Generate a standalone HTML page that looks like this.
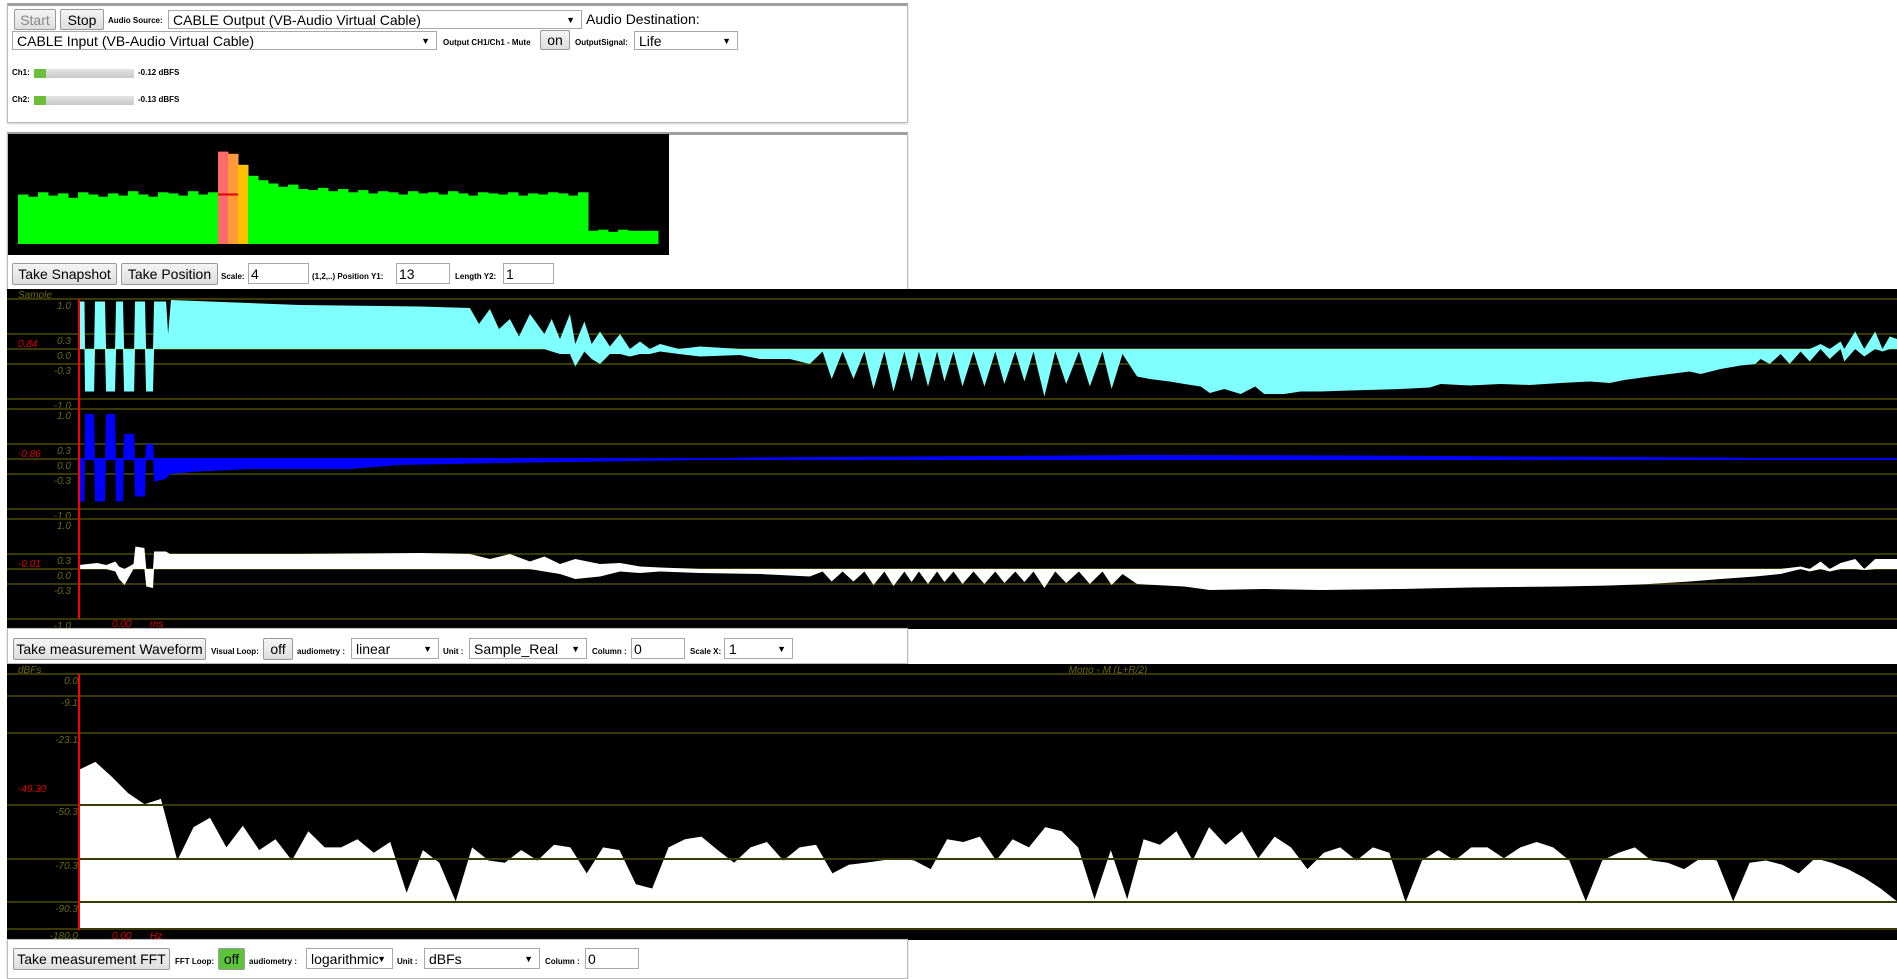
<!DOCTYPE html>
<html><head><meta charset="utf-8">
<style>
*{box-sizing:border-box;margin:0;padding:0}
body{width:1897px;height:966px;background:#fff;position:relative;overflow:hidden;font-family:"Liberation Sans",sans-serif}
.abs{position:absolute}
.panel{position:absolute;border:1px solid #bbb;border-top:3px solid #a0a0a0;background:#fff;box-shadow:0 1px 2px #ccc}
.btn{position:absolute;background:linear-gradient(#f4f4f4,#dedede);border:1px solid #999;border-radius:2px;font-size:14px;color:#000;display:flex;align-items:center;justify-content:center;white-space:nowrap}
.sel{position:absolute;background:#fff;border:1px solid #a9a9a9;font-size:14px;padding-left:4px;display:flex;align-items:center;white-space:nowrap}
.sel:after{content:"▼";position:absolute;right:6px;font-size:9px;top:50%;transform:translateY(-50%)}
.inp{position:absolute;background:#fff;border:1px solid #a9a9a9;font-size:14px;padding-left:2px;display:flex;align-items:center}
.lbl{position:absolute;font-size:8px;font-weight:bold;white-space:nowrap;font-family:"Liberation Sans",sans-serif}
svg text{font-family:"Liberation Sans",sans-serif;font-style:italic;font-size:10px}
</style></head><body>

<div class="panel" style="left:7px;top:3px;width:901px;height:120px"></div>
<div class="btn" style="left:14px;top:9px;width:42px;height:21px;color:#888">Start</div>
<div class="btn" style="left:60px;top:9px;width:44px;height:21px">Stop</div>
<div class="lbl" style="left:108px;top:16px">Audio Source:</div>
<div class="sel" style="left:168px;top:10px;width:414px;height:19px">CABLE Output (VB-Audio Virtual Cable)</div>
<div class="abs" style="left:586px;top:11px;font-size:14px">Audio Destination:</div>
<div class="sel" style="left:12px;top:31px;width:425px;height:19px">CABLE Input (VB-Audio Virtual Cable)</div>
<div class="lbl" style="left:443px;top:38px">Output CH1/Ch1 - Mute</div>
<div class="btn" style="left:540px;top:30px;width:30px;height:20px">on</div>
<div class="lbl" style="left:575px;top:38px">OutputSignal:</div>
<div class="sel" style="left:634px;top:31px;width:104px;height:19px">Life</div>
<div class="lbl" style="left:12px;top:68px">Ch1:</div>
<div class="abs" style="left:34px;top:69px;width:100px;height:9px;background:linear-gradient(#e4e4e4,#c8c8c8)"><div style="width:12px;height:9px;background:#6cbf3a"></div></div>
<div class="lbl" style="left:138px;top:68px">-0.12 dBFS</div>
<div class="lbl" style="left:12px;top:95px">Ch2:</div>
<div class="abs" style="left:34px;top:96px;width:100px;height:9px;background:linear-gradient(#e4e4e4,#c8c8c8)"><div style="width:12px;height:9px;background:#6cbf3a"></div></div>
<div class="lbl" style="left:138px;top:95px">-0.13 dBFS</div>

<div class="panel" style="left:7px;top:132px;width:901px;height:160px"></div>
<svg id="spec" class="abs" style="left:8px;top:134px" width="661" height="121"></svg>
<div class="btn" style="left:12px;top:263px;width:105px;height:22px">Take Snapshot</div>
<div class="btn" style="left:121px;top:263px;width:97px;height:22px">Take Position</div>
<div class="lbl" style="left:221px;top:272px">Scale:</div>
<div class="inp" style="left:248px;top:263px;width:61px;height:21px">4</div>
<div class="lbl" style="left:312px;top:272px">(1,2,..) Position Y1:</div>
<div class="inp" style="left:396px;top:263px;width:54px;height:21px">13</div>
<div class="lbl" style="left:455px;top:272px">Length Y2:</div>
<div class="inp" style="left:503px;top:263px;width:51px;height:21px">1</div>

<svg id="wave" class="abs" style="left:7px;top:289px" width="1890" height="340"></svg>

<div class="panel" style="left:7px;top:628px;width:901px;height:36px;border-top:1px solid #bbb"></div>
<div class="btn" style="left:13px;top:638px;width:193px;height:22px">Take measurement Waveform</div>
<div class="lbl" style="left:211px;top:647px">Visual Loop:</div>
<div class="btn" style="left:263px;top:638px;width:30px;height:22px">off</div>
<div class="lbl" style="left:297px;top:647px">audiometry :</div>
<div class="sel" style="left:351px;top:638px;width:88px;height:21px">linear</div>
<div class="lbl" style="left:443px;top:647px">Unit :</div>
<div class="sel" style="left:469px;top:638px;width:118px;height:21px">Sample_Real</div>
<div class="lbl" style="left:592px;top:647px">Column :</div>
<div class="inp" style="left:631px;top:638px;width:54px;height:21px">0</div>
<div class="lbl" style="left:690px;top:647px">Scale X:</div>
<div class="sel" style="left:724px;top:638px;width:69px;height:21px">1</div>

<svg id="fft" class="abs" style="left:7px;top:664px" width="1890" height="276"></svg>

<div class="panel" style="left:7px;top:939px;width:901px;height:40px;border-top:1px solid #bbb"></div>
<div class="btn" style="left:13px;top:948px;width:157px;height:22px">Take measurement FFT</div>
<div class="lbl" style="left:175px;top:957px">FFT Loop:</div>
<div class="btn" style="left:218px;top:948px;width:27px;height:22px;background:#5cc43a">off</div>
<div class="lbl" style="left:249px;top:957px">audiometry :</div>
<div class="sel" style="left:306px;top:948px;width:87px;height:21px">logarithmic</div>
<div class="lbl" style="left:397px;top:957px">Unit :</div>
<div class="sel" style="left:424px;top:948px;width:116px;height:21px">dBFs</div>
<div class="lbl" style="left:545px;top:957px">Column :</div>
<div class="inp" style="left:585px;top:948px;width:54px;height:21px">0</div>

<script>
const NS="http://www.w3.org/2000/svg";
function mk(p,tag,at){const e=document.createElementNS(NS,tag);for(const k in at)e.setAttribute(k,at[k]);p.appendChild(e);return e;}

// ---------- snapshot spectrum data ----------
const specLevels=[0.45,0.43,0.47,0.44,0.46,0.42,0.47,0.45,0.43,0.46,0.44,0.48,0.45,0.43,0.47,0.46,0.44,0.48,0.45,0.47,
0.84,0.82,0.72,0.62,0.58,0.55,0.52,0.54,0.5,0.49,0.51,0.48,0.5,0.47,0.49,0.46,0.48,0.47,0.45,0.48,
0.46,0.47,0.45,0.48,0.46,0.44,0.47,0.46,0.45,0.47,0.44,0.46,0.45,0.47,0.46,0.44,0.47,0.12,0.13,0.11,0.13,0.12,0.12,0.12];
const specPeakIdx=[20,21,22];
const specMarker=0.45;

// ---------- waveform data: [sample t (0..1000), high, low] ----------
const ch1Points=[[0,.95,0],[3,.95,0],[3.3,0,-.85],[8.3,0,-.85],[8.8,.95,0],[14.3,.95,0],[14.9,0,-.85],[19.8,0,-.85],[20.4,.95,0],[24.2,.95,0],[24.8,0,-.85],[30.3,0,-.85],[30.8,.95,0],[36.3,.95,0],[36.9,0,-.85],[40.7,0,-.85],[41.3,.95,0],[47.9,.95,0],[49,.3,0],[50.6,.98,0],[121.6,.88,0],[187.6,.85,0],[215,.82,0],[220,.5,0],[226,.8,0],[231,.4,0],[237,.6,0],[242,.25,0],[248,.7,0],[256,.3,0],[260,.6,-.05],[264.6,.2,-.1],[270,.7,-.1],[273,.1,-.35],[278,.55,-.05],[282,.1,-.2],[286.6,.35,-.3],[292,.05,-.1],[297.6,.3,-.1],[303,0,-.15],[308.6,.15,-.1],[314,0,-.1],[319.6,.1,-.05],[330,0,-.1],[341.6,.05,-.15],[363.6,0,-.12],[374.6,0,-.2],[391,0,-.2],[402,0,-.3],
[409,0,-.05],[414,0,-.6],[420,0,-.05],[426,0,-.6],[432,0,-.05],[437,0,-.8],[443,0,-.05],[448,0,-.85],[454,0,-.05],[458,0,-.65],[462,0,-.05],[467,0,-.75],[472,0,-.05],[476,0,-.65],[481,0,-.05],[486,0,-.75],[492,0,-.05],[498,0,-.75],[504,0,-.05],[509,0,-.7],[515,0,-.05],[520,0,-.65],[525,0,-.05],[531,0,-.95],[537,0,-.05],[543,0,-.7],[550,0,-.05],[556,0,-.75],[563,0,-.05],[568,0,-.8],[574,0,-.1],
[582,0,-.55],[589,0,-.6],[600,0,-.65],[608,0,-.7],[617,0,-.75],[622,0,-.88],[630,0,-.8],[639,0,-.9],[647,0,-.75],[652,0,-.9],[663,0,-.9],[672,0,-.85],[683,0,-.85],[699,0,-.83],[727,0,-.8],[743,0,-.77],[749,0,-.7],[765,0,-.73],[782,0,-.7],[798,0,-.72],[815,0,-.68],[831,0,-.65],[842,0,-.68],[850,0,-.62],[864,0,-.55],[875,0,-.5],[886,0,-.45],[892,0,-.5],[903,0,-.4],[914,0,-.33],[922,0,-.3],[925,0,-.2],[930,0,-.3],[936,0,-.1],[941,0,-.3],[947,0,-.05],[952,0,-.25],[958,.1,0],[963,0,-.2],[969,.15,0],[971,0,-.25],[977,.35,0],[982,0,-.15],[988,.35,0],[992,0,-.05],[996,.25,0],[1000,.2,0]];

const ch2Points=[[0,0,-.85],[3,0,-.85],[3.3,.9,0],[8.3,.9,0],[8.8,0,-.85],[14.3,0,-.85],[14.9,.9,0],[19.8,.9,0],[20.4,0,-.85],[24.2,0,-.85],[24.8,.5,0],[30.3,.5,0],[30.8,0,-.75],[36.3,0,-.75],[36.9,.3,0],[40.7,.3,0],[41.3,0,-.45],[47.9,0,-.4],[50,0,-.3],[66,0,-.25],[94,0,-.2],[149,0,-.2],[176,0,-.12],[231,0,-.08],[286,0,-.05],[341,.01,-.02],[369,.03,-.01],[500,.06,-.01],[590,.08,-.01],[700,.07,-.01],[800,.05,-.01],[900,.03,-.01],[950,.01,-.01],[1000,.01,-.01]];

const ch3Points=[[0,.08,0],[5,.1,0],[10,.12,0],[15,.08,0],[20,.15,-.05],[22,.05,-.2],[25,0,-.32],[30,.1,0],[31,.45,0],[36,.42,0],[37,0,-.35],[40.7,0,-.38],[41.3,.35,0],[47.9,.35,0],[50,.3,0],[121.6,.3,0],[187.6,.32,0],[215,.3,0],[226,.2,0],[237,.3,0],[248,.15,0],[256,.25,-.05],[264.6,.1,-.1],[273,.2,-.2],[286.6,.1,-.15],[297.6,.12,-.05],[308.6,.05,-.08],[319.6,.03,-.05],[341.6,0,-.08],[374.6,0,-.1],[402,0,-.15],
[409,0,-.05],[414,0,-.25],[420,0,-.05],[426,0,-.25],[432,0,-.05],[437,0,-.32],[443,0,-.05],[448,0,-.34],[454,0,-.05],[458,0,-.26],[462,0,-.05],[467,0,-.3],[472,0,-.05],[476,0,-.26],[481,0,-.05],[486,0,-.3],[492,0,-.05],[498,0,-.3],[504,0,-.05],[509,0,-.28],[515,0,-.05],[520,0,-.26],[525,0,-.05],[531,0,-.38],[537,0,-.05],[543,0,-.28],[550,0,-.05],[556,0,-.3],[563,0,-.05],[568,0,-.32],[574,0,-.1],
[582,0,-.3],[608,0,-.35],[622,0,-.42],[652,0,-.4],[683,0,-.42],[727,0,-.4],[765,0,-.37],[815,0,-.35],[842,0,-.33],[864,0,-.3],[886,0,-.25],[903,0,-.2],[922,0,-.15],[936,0,-.1],[947,.05,0],[952,0,-.05],[958,.15,0],[963,0,-.05],[969,.12,0],[977,.2,0],[982,0,-.02],[988,.2,0],[1000,.2,0]];

const waveTicks=[1.0,0.3,0.0,-0.3,-1.0];
const waveTickLabels=["1.0","0.3","0.0","-0.3","-1.0"];
const waveCursor=["0.84","-0.86","-0.01"];
const waveColors=["#80ffff","#0000ff","#ffffff"];

// ---------- FFT data (dBFS, evenly spaced bins) ----------
const fftDb=[-37,-34,-39.6,-45.8,-50,-48,-71,-58.5,-55,-66,-58,-67,-63,-71,-60,-66,-66,-63,-68,-64,-86,-67,-72,-90,-66,-71,-72,-67,-71,-65,-66,-77,-66,-67,-82,-84,-66,-63,-62,-67,-72,-66,-64,-71,-66,-65,-77,-73,-72,-71,-70,-71,-75,-63,-64,
-62,-71,-63,-66,-58.5,-60,-66,-89,-67,-89,-63,-65,-60,-71,-58.5,-65,-60,-70,-62,-66,-75,-68,-66,-71,-66,-68,-91,-71,-67,-71,-66,-66,-70,-66,-64,-66,-71,-90,-71,-68,-66,-71,-72,-75,-70,-71,-90,-72,-71,-73,-77,-70,-72,-75,-79,-84,-90];
const fftTicks=[0,-9.1,-23.1,-50.3,-70.3,-90.3,-180];
const fftTickLabels=["0.0","-9.1","-23.1","-50.3","-70.3","-90.3","-180.0"];
const fftTickY=[10,32,69,141,195,238,265]; // axis layout (px) for the non-linear dB scale
const fftCursor="-49.30";

// ---------- snapshot ----------
(function(){
  const s=document.getElementById('spec');
  const bg=mk(s,'rect',{x:0,y:0,width:661,height:121,fill:'#000'});
  
  
  const x0=10,bw=10,base=110,h=110;
  const xs=i=>x0+i*bw, ys=v=>base-v*h;
  const peakCols=['#ff6a6a','#ff9a3a','#ffc000'];
  specLevels.forEach((v,i)=>{
    const pi=specPeakIdx.indexOf(i);
    const r=mk(s,'rect',{x:xs(i),y:ys(v),width:bw+0.5,height:base-ys(v),fill:pi>=0?peakCols[pi]:'#00ff00'});
    
    
  });
  const m=mk(s,'rect',{x:xs(specPeakIdx[0]),y:ys(specMarker)-1,width:bw*2,height:2,fill:'#e00000'});
  
  
})();

// ---------- waveform ----------
(function(){
  const s=document.getElementById('wave');
  const bg=mk(s,'rect',{x:0,y:0,width:1890,height:340,fill:'#000'});
  
  
  const X0=72,W=1818;
  const xW=t=>X0+t/1000*W;
  const zero=[60,170,280];
  const yW=(c,v)=>zero[c]-v*50;
  const t1=mk(s,'text',{x:11,y:9,fill:'#6b6b10'});t1.textContent='Sample';
  
  
  const chans=[ch1Points,ch2Points,ch3Points];
  for(let c=0;c<3;c++){
    waveTicks.forEach((tv,k)=>{
      const l=mk(s,'rect',{x:0,y:yW(c,tv)-1,width:1890,height:2,fill:'#3a3a00'});
      
      
      const tx=mk(s,'text',{x:64,y:yW(c,tv)+10,fill:'#6b6b10','text-anchor':'end'});
      tx.textContent=waveTickLabels[k];
      
      
    });
    const P=chans[c];
    let pts=P.map(p=>xW(p[0]).toFixed(1)+','+yW(c,p[1]).toFixed(1));
    for(let i=P.length-1;i>=0;i--)pts.push(xW(P[i][0]).toFixed(1)+','+yW(c,P[i][2]).toFixed(1));
    const p=mk(s,'polygon',{points:pts.join(' '),fill:waveColors[c]});
    
    
    if(c===1){const zl=mk(s,'rect',{x:X0,y:zero[c]-1,width:W,height:2,fill:'#0000ff'});
      
      }
    const cv=mk(s,'text',{x:11,y:zero[c]-2,fill:'#e00000'});cv.textContent=waveCursor[c];
    
    
  }
  const cur=mk(s,'rect',{x:X0-1,y:10,width:2,height:320,fill:'#ff0000'});
  
  
  const a=mk(s,'text',{x:105,y:338,fill:'#e00000'});a.textContent='0.00';
  
  
  const b=mk(s,'text',{x:143,y:338,fill:'#e00000'});b.textContent='ms';
  
  
})();

// ---------- FFT ----------
(function(){
  const s=document.getElementById('fft');
  const bg=mk(s,'rect',{x:0,y:0,width:1890,height:276,fill:'#000'});
  
  
  const X0=72,W=1818;
  const xF=i=>X0+i/(fftDb.length-1)*W;
  function yF(d){
    for(let k=0;k<fftTicks.length-1;k++){
      if(d<=fftTicks[k]&&d>=fftTicks[k+1]){
        const f=(fftTicks[k]-d)/(fftTicks[k]-fftTicks[k+1]);
        return fftTickY[k]+f*(fftTickY[k+1]-fftTickY[k]);
      }}
    return d>0?fftTickY[0]:fftTickY[fftTickY.length-1];
  }
  const t1=mk(s,'text',{x:11,y:9,fill:'#6b6b10'});t1.textContent='dBFs';
  
  
  const t2=mk(s,'text',{x:1101,y:9,fill:'#6b6b10','text-anchor':'middle'});t2.textContent='Mono - M (L+R/2)';
  
  
  let pts=[xF(0).toFixed(1)+','+yF(-180)];
  fftDb.forEach((d,i)=>pts.push(xF(i).toFixed(1)+','+yF(d).toFixed(1)));
  pts.push(xF(fftDb.length-1).toFixed(1)+','+yF(-180));
  const p=mk(s,'polygon',{points:pts.join(' '),fill:'#fff'});
  
  
  fftTicks.forEach((tv,k)=>{
    const l=mk(s,'rect',{x:0,y:yF(tv)-1,width:1890,height:2,fill:'#3a3a00'});
    
    
    const tx=mk(s,'text',{x:71,y:yF(tv)+10,fill:'#6b6b10','text-anchor':'end'});
    tx.textContent=fftTickLabels[k];
    
    
  });
  const cv=mk(s,'text',{x:11,y:128,fill:'#e00000'});cv.textContent=fftCursor;
  
  
  const cur=mk(s,'rect',{x:X0-1,y:10,width:2,height:256,fill:'#ff0000'});
  
  
  const a=mk(s,'text',{x:105,y:275,fill:'#e00000'});a.textContent='0.00';
  
  
  const b=mk(s,'text',{x:143,y:275,fill:'#e00000'});b.textContent='Hz';
  
  
})();
</script>
</body></html>
